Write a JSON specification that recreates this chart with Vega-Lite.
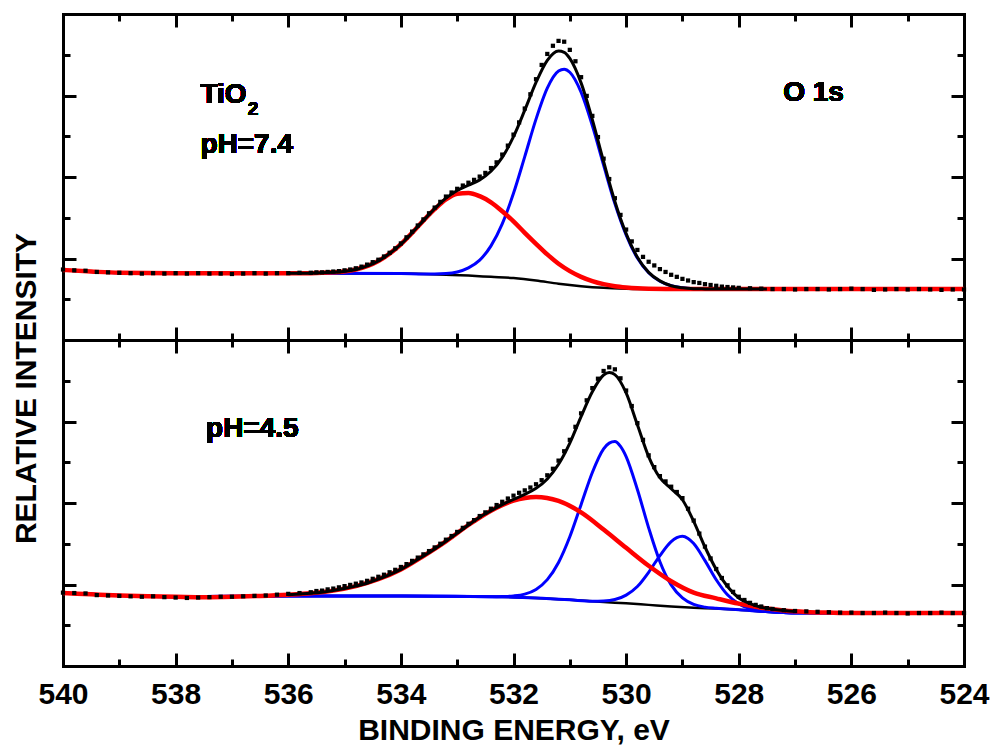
{
  "$schema": "https://vega.github.io/schema/vega-lite/v6.json",
  "padding": {"left": 10, "top": 12, "right": 0, "bottom": 0},
  "spacing": 0,
  "bounds": "flush",
  "background": "white",
  "config": {
    "view": {"stroke": null},
    "axis": {"domainColor": "black", "domainWidth": 3, "domainCap": "square", "tickColor": "black", "tickWidth": 3, "tickCap": "butt", "grid": false, "labels": false, "zindex": 1,
      "labelFont": "Liberation Sans", "labelFontWeight": "bold", "labelColor": "black", "titleFont": "Liberation Sans", "titleFontWeight": "bold", "titleColor": "black"}
  },
  "datasets": {
    "top": [
      {"s":"bg","e":540,"i":1.72},{"s":"bg","e":539.5,"i":1.68},{"s":"bg","e":539,"i":1.65},{"s":"bg","e":538,"i":1.64},{"s":"bg","e":537,"i":1.64},{"s":"bg","e":536,"i":1.64},{"s":"bg","e":535,"i":1.63},{"s":"bg","e":534,"i":1.63},{"s":"bg","e":533.6,"i":1.62},{"s":"bg","e":533.2,"i":1.6},{"s":"bg","e":532.8,"i":1.58},{"s":"bg","e":532.4,"i":1.55},{"s":"bg","e":532,"i":1.52},{"s":"bg","e":531.6,"i":1.46},{"s":"bg","e":531.2,"i":1.38},{"s":"bg","e":530.8,"i":1.32},{"s":"bg","e":530.4,"i":1.28},{"s":"bg","e":530,"i":1.26},{"s":"bg","e":529.6,"i":1.25},{"s":"bg","e":529,"i":1.25},{"s":"bg","e":528,"i":1.25},{"s":"bg","e":526,"i":1.25},{"s":"bg","e":524,"i":1.25},
      {"s":"blue","e":540,"i":1.72},{"s":"blue","e":539,"i":1.65},{"s":"blue","e":538,"i":1.64},{"s":"blue","e":536,"i":1.64},{"s":"blue","e":534,"i":1.63},{"s":"blue","e":533.6,"i":1.62},{"s":"blue","e":533.4,"i":1.62},{"s":"blue","e":533.2,"i":1.63},{"s":"blue","e":533,"i":1.67},{"s":"blue","e":532.8,"i":1.77},{"s":"blue","e":532.6,"i":1.96},{"s":"blue","e":532.4,"i":2.31},{"s":"blue","e":532.2,"i":2.85},{"s":"blue","e":532,"i":3.6},{"s":"blue","e":531.8,"i":4.5},{"s":"blue","e":531.6,"i":5.42},{"s":"blue","e":531.4,"i":6.18},{"s":"blue","e":531.2,"i":6.6},{"s":"blue","e":531.1,"i":6.645},{"s":"blue","e":531,"i":6.57},{"s":"blue","e":530.8,"i":6.08},{"s":"blue","e":530.6,"i":5.26},{"s":"blue","e":530.4,"i":4.29},{"s":"blue","e":530.2,"i":3.35},{"s":"blue","e":530,"i":2.58},{"s":"blue","e":529.8,"i":2.01},{"s":"blue","e":529.6,"i":1.65},{"s":"blue","e":529.4,"i":1.44},{"s":"blue","e":529.2,"i":1.33},{"s":"blue","e":529,"i":1.28},{"s":"blue","e":528.8,"i":1.26},{"s":"blue","e":528.6,"i":1.254},{"s":"blue","e":528,"i":1.25},{"s":"blue","e":526,"i":1.25},{"s":"blue","e":524,"i":1.25},
      {"s":"red","e":540,"i":1.72},{"s":"red","e":539.5,"i":1.68},{"s":"red","e":539,"i":1.65},{"s":"red","e":538,"i":1.64},{"s":"red","e":537,"i":1.64},{"s":"red","e":536,"i":1.64},{"s":"red","e":535.6,"i":1.64},{"s":"red","e":535.2,"i":1.66},{"s":"red","e":534.8,"i":1.73},{"s":"red","e":534.4,"i":1.94},{"s":"red","e":534.2,"i":2.12},{"s":"red","e":534,"i":2.35},{"s":"red","e":533.8,"i":2.63},{"s":"red","e":533.6,"i":2.93},{"s":"red","e":533.4,"i":3.21},{"s":"red","e":533.2,"i":3.45},{"s":"red","e":533,"i":3.59},{"s":"red","e":532.8,"i":3.61},{"s":"red","e":532.6,"i":3.53},{"s":"red","e":532.4,"i":3.38},{"s":"red","e":532.2,"i":3.16},{"s":"red","e":532,"i":2.91},{"s":"red","e":531.8,"i":2.63},{"s":"red","e":531.6,"i":2.36},{"s":"red","e":531.4,"i":2.1},{"s":"red","e":531.2,"i":1.87},{"s":"red","e":531,"i":1.69},{"s":"red","e":530.8,"i":1.55},{"s":"red","e":530.6,"i":1.445},{"s":"red","e":530.4,"i":1.37},{"s":"red","e":530.2,"i":1.32},{"s":"red","e":530,"i":1.29},{"s":"red","e":529.8,"i":1.27},{"s":"red","e":529.6,"i":1.26},{"s":"red","e":529,"i":1.25},{"s":"red","e":528,"i":1.25},{"s":"red","e":527,"i":1.25},{"s":"red","e":526,"i":1.25},{"s":"red","e":525,"i":1.25},{"s":"red","e":524,"i":1.25},
      {"s":"env","e":536,"i":1.64},{"s":"env","e":535.6,"i":1.64},{"s":"env","e":535.2,"i":1.66},{"s":"env","e":534.8,"i":1.73},{"s":"env","e":534.4,"i":1.94},{"s":"env","e":534.2,"i":2.12},{"s":"env","e":534,"i":2.35},{"s":"env","e":533.8,"i":2.63},{"s":"env","e":533.6,"i":2.93},{"s":"env","e":533.4,"i":3.22},{"s":"env","e":533.2,"i":3.48},{"s":"env","e":533,"i":3.67},{"s":"env","e":532.8,"i":3.8},{"s":"env","e":532.6,"i":3.93},{"s":"env","e":532.4,"i":4.14},{"s":"env","e":532.2,"i":4.48},{"s":"env","e":532,"i":4.99},{"s":"env","e":531.8,"i":5.64},{"s":"env","e":531.6,"i":6.32},{"s":"env","e":531.4,"i":6.86},{"s":"env","e":531.2,"i":7.09},{"s":"env","e":531.1,"i":7.06},{"s":"env","e":531,"i":6.91},{"s":"env","e":530.8,"i":6.31},{"s":"env","e":530.6,"i":5.41},{"s":"env","e":530.4,"i":4.38},{"s":"env","e":530.2,"i":3.4},{"s":"env","e":530,"i":2.61},{"s":"env","e":529.8,"i":2.03},{"s":"env","e":529.6,"i":1.66},{"s":"env","e":529.4,"i":1.45},{"s":"env","e":529.2,"i":1.33},{"s":"env","e":529,"i":1.28},{"s":"env","e":528.8,"i":1.26},{"s":"env","e":528.6,"i":1.254},{"s":"env","e":528.4,"i":1.25},{"s":"env","e":527.5,"i":1.25},
      {"s":"data","e":540,"i":1.73},{"s":"data","e":539.8,"i":1.71},{"s":"data","e":539.6,"i":1.7},{"s":"data","e":539.4,"i":1.67},{"s":"data","e":539.2,"i":1.66},{"s":"data","e":539,"i":1.65},{"s":"data","e":538.8,"i":1.64},{"s":"data","e":538.6,"i":1.63},{"s":"data","e":538.4,"i":1.64},{"s":"data","e":538.2,"i":1.63},{"s":"data","e":538,"i":1.64},{"s":"data","e":537.8,"i":1.63},{"s":"data","e":537.6,"i":1.64},{"s":"data","e":537.4,"i":1.63},{"s":"data","e":537.2,"i":1.63},{"s":"data","e":537,"i":1.62},{"s":"data","e":536.8,"i":1.63},{"s":"data","e":536.6,"i":1.64},{"s":"data","e":536.4,"i":1.63},{"s":"data","e":536.2,"i":1.64},{"s":"data","e":536,"i":1.64},{"s":"data","e":535.8,"i":1.65},{"s":"data","e":535.6,"i":1.65},
      {"s":"data","e":535.5,"i":1.66},{"s":"data","e":535.4,"i":1.66},{"s":"data","e":535.3,"i":1.67},{"s":"data","e":535.2,"i":1.68},{"s":"data","e":535.1,"i":1.69},{"s":"data","e":535,"i":1.71},{"s":"data","e":534.9,"i":1.73},{"s":"data","e":534.8,"i":1.76},{"s":"data","e":534.7,"i":1.8},{"s":"data","e":534.6,"i":1.85},{"s":"data","e":534.5,"i":1.91},{"s":"data","e":534.4,"i":1.97},{"s":"data","e":534.3,"i":2.05},{"s":"data","e":534.2,"i":2.14},{"s":"data","e":534.1,"i":2.25},{"s":"data","e":534,"i":2.37},{"s":"data","e":533.9,"i":2.52},{"s":"data","e":533.8,"i":2.66},{"s":"data","e":533.7,"i":2.81},{"s":"data","e":533.6,"i":2.96},{"s":"data","e":533.5,"i":3.11},{"s":"data","e":533.4,"i":3.25},{"s":"data","e":533.3,"i":3.39},{"s":"data","e":533.2,"i":3.52},{"s":"data","e":533.1,"i":3.62},{"s":"data","e":533,"i":3.71},{"s":"data","e":532.9,"i":3.79},{"s":"data","e":532.8,"i":3.86},{"s":"data","e":532.7,"i":3.93},{"s":"data","e":532.6,"i":4.01},{"s":"data","e":532.5,"i":4.1},{"s":"data","e":532.4,"i":4.22},{"s":"data","e":532.3,"i":4.36},{"s":"data","e":532.2,"i":4.55},{"s":"data","e":532.1,"i":4.77},{"s":"data","e":532,"i":5.04},{"s":"data","e":531.9,"i":5.34},{"s":"data","e":531.8,"i":5.68},{"s":"data","e":531.7,"i":6.03},{"s":"data","e":531.6,"i":6.4},{"s":"data","e":531.5,"i":6.75},{"s":"data","e":531.4,"i":7.02},{"s":"data","e":531.3,"i":7.22},{"s":"data","e":531.2,"i":7.34},{"s":"data","e":531.1,"i":7.32},{"s":"data","e":531,"i":7.12},{"s":"data","e":530.9,"i":6.84},{"s":"data","e":530.8,"i":6.45},{"s":"data","e":530.7,"i":5.99},{"s":"data","e":530.6,"i":5.5},{"s":"data","e":530.5,"i":4.98},{"s":"data","e":530.4,"i":4.45},{"s":"data","e":530.3,"i":3.95},{"s":"data","e":530.2,"i":3.48},{"s":"data","e":530.1,"i":3.07},{"s":"data","e":530,"i":2.71},{"s":"data","e":529.9,"i":2.42},{"s":"data","e":529.8,"i":2.21},{"s":"data","e":529.7,"i":2.04},{"s":"data","e":529.6,"i":1.92},{"s":"data","e":529.5,"i":1.83},{"s":"data","e":529.4,"i":1.74},{"s":"data","e":529.3,"i":1.67},{"s":"data","e":529.2,"i":1.6},{"s":"data","e":529.1,"i":1.55},{"s":"data","e":529,"i":1.5},{"s":"data","e":528.9,"i":1.46},{"s":"data","e":528.8,"i":1.42},{"s":"data","e":528.7,"i":1.4},{"s":"data","e":528.6,"i":1.37},{"s":"data","e":528.5,"i":1.35},{"s":"data","e":528.4,"i":1.33},{"s":"data","e":528.3,"i":1.31},{"s":"data","e":528.2,"i":1.3},{"s":"data","e":528.1,"i":1.29},{"s":"data","e":528,"i":1.28},
      {"s":"data","e":527.8,"i":1.27},{"s":"data","e":527.6,"i":1.26},{"s":"data","e":527.4,"i":1.25},{"s":"data","e":527.2,"i":1.25},{"s":"data","e":527,"i":1.24},{"s":"data","e":526.8,"i":1.25},{"s":"data","e":526.6,"i":1.25},{"s":"data","e":526.4,"i":1.24},{"s":"data","e":526.2,"i":1.25},{"s":"data","e":526,"i":1.26},{"s":"data","e":525.8,"i":1.25},{"s":"data","e":525.6,"i":1.23},{"s":"data","e":525.4,"i":1.24},{"s":"data","e":525.2,"i":1.25},{"s":"data","e":525,"i":1.24},{"s":"data","e":524.8,"i":1.25},{"s":"data","e":524.6,"i":1.24},{"s":"data","e":524.4,"i":1.23},{"s":"data","e":524.2,"i":1.24},{"s":"data","e":524,"i":1.24}
    ],
    "bottom": [
      {"s":"bg","e":540,"i":1.79},{"s":"bg","e":539.5,"i":1.76},{"s":"bg","e":539,"i":1.73},{"s":"bg","e":538.5,"i":1.71},{"s":"bg","e":538,"i":1.7},{"s":"bg","e":537.5,"i":1.69},{"s":"bg","e":537,"i":1.7},{"s":"bg","e":536.5,"i":1.71},{"s":"bg","e":536,"i":1.72},{"s":"bg","e":534,"i":1.72},{"s":"bg","e":533.2,"i":1.71},{"s":"bg","e":532.4,"i":1.7},{"s":"bg","e":532,"i":1.69},{"s":"bg","e":531.6,"i":1.67},{"s":"bg","e":531.2,"i":1.64},{"s":"bg","e":530.8,"i":1.61},{"s":"bg","e":530.4,"i":1.57},{"s":"bg","e":530,"i":1.54},{"s":"bg","e":529.6,"i":1.5},{"s":"bg","e":529.2,"i":1.46},{"s":"bg","e":528.8,"i":1.43},{"s":"bg","e":528.4,"i":1.41},{"s":"bg","e":528,"i":1.38},{"s":"bg","e":527.6,"i":1.34},{"s":"bg","e":527.2,"i":1.31},{"s":"bg","e":527,"i":1.3},{"s":"bg","e":526,"i":1.3},{"s":"bg","e":524,"i":1.3},
      {"s":"blue1","e":540,"i":1.79},{"s":"blue1","e":538,"i":1.7},{"s":"blue1","e":536,"i":1.72},{"s":"blue1","e":534,"i":1.72},{"s":"blue1","e":532.4,"i":1.7},{"s":"blue1","e":532.2,"i":1.705},{"s":"blue1","e":532,"i":1.72},{"s":"blue1","e":531.8,"i":1.765},{"s":"blue1","e":531.6,"i":1.88},{"s":"blue1","e":531.4,"i":2.12},{"s":"blue1","e":531.2,"i":2.54},{"s":"blue1","e":531,"i":3.17},{"s":"blue1","e":530.8,"i":3.96},{"s":"blue1","e":530.6,"i":4.75},{"s":"blue1","e":530.4,"i":5.33},{"s":"blue1","e":530.3,"i":5.47},{"s":"blue1","e":530.2,"i":5.51},{"s":"blue1","e":530.1,"i":5.39},{"s":"blue1","e":530,"i":5.14},{"s":"blue1","e":529.8,"i":4.33},{"s":"blue1","e":529.6,"i":3.39},{"s":"blue1","e":529.4,"i":2.56},{"s":"blue1","e":529.2,"i":1.99},{"s":"blue1","e":529,"i":1.67},{"s":"blue1","e":528.8,"i":1.51},{"s":"blue1","e":528.6,"i":1.445},{"s":"blue1","e":528.4,"i":1.417},{"s":"blue1","e":528,"i":1.38},{"s":"blue1","e":527.2,"i":1.31},{"s":"blue1","e":527,"i":1.3},{"s":"blue1","e":524,"i":1.3},
      {"s":"blue2","e":540,"i":1.79},{"s":"blue2","e":538,"i":1.7},{"s":"blue2","e":536,"i":1.72},{"s":"blue2","e":534,"i":1.72},{"s":"blue2","e":532,"i":1.69},{"s":"blue2","e":531.6,"i":1.67},{"s":"blue2","e":531,"i":1.625},{"s":"blue2","e":530.6,"i":1.59},{"s":"blue2","e":530.4,"i":1.595},{"s":"blue2","e":530.2,"i":1.63},{"s":"blue2","e":530,"i":1.74},{"s":"blue2","e":529.8,"i":1.95},{"s":"blue2","e":529.6,"i":2.3},{"s":"blue2","e":529.4,"i":2.71},{"s":"blue2","e":529.2,"i":3.055},{"s":"blue2","e":529.1,"i":3.15},{"s":"blue2","e":529,"i":3.185},{"s":"blue2","e":528.9,"i":3.13},{"s":"blue2","e":528.8,"i":3.005},{"s":"blue2","e":528.6,"i":2.586},{"s":"blue2","e":528.4,"i":2.117},{"s":"blue2","e":528.2,"i":1.746},{"s":"blue2","e":528,"i":1.523},{"s":"blue2","e":527.8,"i":1.408},{"s":"blue2","e":527.6,"i":1.353},{"s":"blue2","e":527.2,"i":1.31},{"s":"blue2","e":527,"i":1.3},{"s":"blue2","e":524,"i":1.3},
      {"s":"red","e":540,"i":1.79},{"s":"red","e":539.5,"i":1.76},{"s":"red","e":539,"i":1.73},{"s":"red","e":538.5,"i":1.71},{"s":"red","e":538,"i":1.7},{"s":"red","e":537.5,"i":1.69},{"s":"red","e":537,"i":1.7},{"s":"red","e":536.5,"i":1.72},{"s":"red","e":536,"i":1.75},{"s":"red","e":535.6,"i":1.785},{"s":"red","e":535.2,"i":1.85},{"s":"red","e":534.8,"i":1.96},{"s":"red","e":534.4,"i":2.13},{"s":"red","e":534,"i":2.37},{"s":"red","e":533.6,"i":2.7},{"s":"red","e":533.2,"i":3.06},{"s":"red","e":532.8,"i":3.46},{"s":"red","e":532.4,"i":3.81},{"s":"red","e":532,"i":4.06},{"s":"red","e":531.6,"i":4.15},{"s":"red","e":531.2,"i":4.05},{"s":"red","e":530.8,"i":3.77},{"s":"red","e":530.4,"i":3.35},{"s":"red","e":530,"i":2.9},{"s":"red","e":529.6,"i":2.46},{"s":"red","e":529.2,"i":2.08},{"s":"red","e":528.8,"i":1.8},{"s":"red","e":528.4,"i":1.66},{"s":"red","e":528,"i":1.53},{"s":"red","e":527.6,"i":1.43},{"s":"red","e":527.2,"i":1.36},{"s":"red","e":526.8,"i":1.325},{"s":"red","e":526.4,"i":1.31},{"s":"red","e":526,"i":1.3},{"s":"red","e":525,"i":1.3},{"s":"red","e":524,"i":1.3},
      {"s":"env","e":536,"i":1.75},{"s":"env","e":535.8,"i":1.765},{"s":"env","e":535.6,"i":1.785},{"s":"env","e":535.4,"i":1.81},{"s":"env","e":535.2,"i":1.85},{"s":"env","e":535,"i":1.9},{"s":"env","e":534.8,"i":1.96},{"s":"env","e":534.6,"i":2.03},{"s":"env","e":534.4,"i":2.13},{"s":"env","e":534.2,"i":2.24},{"s":"env","e":534,"i":2.37},{"s":"env","e":533.8,"i":2.53},{"s":"env","e":533.6,"i":2.7},{"s":"env","e":533.4,"i":2.87},{"s":"env","e":533.2,"i":3.06},{"s":"env","e":533,"i":3.26},{"s":"env","e":532.8,"i":3.46},{"s":"env","e":532.6,"i":3.65},{"s":"env","e":532.4,"i":3.81},{"s":"env","e":532.2,"i":3.96},{"s":"env","e":532,"i":4.09},{"s":"env","e":531.8,"i":4.21},{"s":"env","e":531.6,"i":4.36},{"s":"env","e":531.4,"i":4.59},{"s":"env","e":531.2,"i":4.95},{"s":"env","e":531,"i":5.47},{"s":"env","e":530.8,"i":6.12},{"s":"env","e":530.6,"i":6.73},{"s":"env","e":530.4,"i":7.14},{"s":"env","e":530.3,"i":7.2},{"s":"env","e":530.2,"i":7.15},{"s":"env","e":530,"i":6.7},{"s":"env","e":529.8,"i":5.92},{"s":"env","e":529.6,"i":5.14},{"s":"env","e":529.4,"i":4.62},{"s":"env","e":529.2,"i":4.35},{"s":"env","e":529,"i":4.08},{"s":"env","e":528.8,"i":3.55},{"s":"env","e":528.6,"i":2.92},{"s":"env","e":528.4,"i":2.37},{"s":"env","e":528.2,"i":1.95},{"s":"env","e":528,"i":1.67},{"s":"env","e":527.8,"i":1.53},{"s":"env","e":527.6,"i":1.44},{"s":"env","e":527.4,"i":1.395},{"s":"env","e":527.2,"i":1.36},{"s":"env","e":527,"i":1.34},
      {"s":"data","e":540,"i":1.8},{"s":"data","e":539.8,"i":1.79},{"s":"data","e":539.6,"i":1.78},{"s":"data","e":539.4,"i":1.74},{"s":"data","e":539.2,"i":1.73},{"s":"data","e":539,"i":1.72},{"s":"data","e":538.8,"i":1.71},{"s":"data","e":538.6,"i":1.7},{"s":"data","e":538.4,"i":1.71},{"s":"data","e":538.2,"i":1.69},{"s":"data","e":538,"i":1.68},{"s":"data","e":537.8,"i":1.67},{"s":"data","e":537.6,"i":1.68},{"s":"data","e":537.4,"i":1.69},{"s":"data","e":537.2,"i":1.7},{"s":"data","e":537,"i":1.7},{"s":"data","e":536.8,"i":1.71},{"s":"data","e":536.6,"i":1.72},{"s":"data","e":536.4,"i":1.73},{"s":"data","e":536.2,"i":1.75},{"s":"data","e":536,"i":1.77},{"s":"data","e":535.8,"i":1.79},{"s":"data","e":535.6,"i":1.81},
      {"s":"data","e":535.5,"i":1.84},{"s":"data","e":535.4,"i":1.85},{"s":"data","e":535.3,"i":1.88},{"s":"data","e":535.2,"i":1.9},{"s":"data","e":535.1,"i":1.93},{"s":"data","e":535,"i":1.96},{"s":"data","e":534.9,"i":1.99},{"s":"data","e":534.8,"i":2.02},{"s":"data","e":534.7,"i":2.05},{"s":"data","e":534.6,"i":2.09},{"s":"data","e":534.5,"i":2.14},{"s":"data","e":534.4,"i":2.19},{"s":"data","e":534.3,"i":2.24},{"s":"data","e":534.2,"i":2.3},{"s":"data","e":534.1,"i":2.36},{"s":"data","e":534,"i":2.43},{"s":"data","e":533.9,"i":2.5},{"s":"data","e":533.8,"i":2.58},{"s":"data","e":533.7,"i":2.66},{"s":"data","e":533.6,"i":2.74},{"s":"data","e":533.5,"i":2.82},{"s":"data","e":533.4,"i":2.91},{"s":"data","e":533.3,"i":3.0},{"s":"data","e":533.2,"i":3.1},{"s":"data","e":533.1,"i":3.19},{"s":"data","e":533,"i":3.29},{"s":"data","e":532.9,"i":3.39},{"s":"data","e":532.8,"i":3.49},{"s":"data","e":532.7,"i":3.58},{"s":"data","e":532.6,"i":3.68},{"s":"data","e":532.5,"i":3.77},{"s":"data","e":532.4,"i":3.86},{"s":"data","e":532.3,"i":3.95},{"s":"data","e":532.2,"i":4.03},{"s":"data","e":532.1,"i":4.11},{"s":"data","e":532,"i":4.18},{"s":"data","e":531.9,"i":4.25},{"s":"data","e":531.8,"i":4.31},{"s":"data","e":531.7,"i":4.38},{"s":"data","e":531.6,"i":4.46},{"s":"data","e":531.5,"i":4.56},{"s":"data","e":531.4,"i":4.68},{"s":"data","e":531.3,"i":4.84},{"s":"data","e":531.2,"i":5.04},{"s":"data","e":531.1,"i":5.27},{"s":"data","e":531,"i":5.55},{"s":"data","e":530.9,"i":5.87},{"s":"data","e":530.8,"i":6.2},{"s":"data","e":530.7,"i":6.52},{"s":"data","e":530.6,"i":6.82},{"s":"data","e":530.5,"i":7.05},{"s":"data","e":530.4,"i":7.24},{"s":"data","e":530.3,"i":7.33},{"s":"data","e":530.2,"i":7.28},{"s":"data","e":530.1,"i":7.06},{"s":"data","e":530,"i":6.76},{"s":"data","e":529.9,"i":6.38},{"s":"data","e":529.8,"i":5.96},{"s":"data","e":529.7,"i":5.55},{"s":"data","e":529.6,"i":5.17},{"s":"data","e":529.5,"i":4.88},{"s":"data","e":529.4,"i":4.66},{"s":"data","e":529.3,"i":4.53},{"s":"data","e":529.2,"i":4.4},{"s":"data","e":529.1,"i":4.27},{"s":"data","e":529,"i":4.12},{"s":"data","e":528.9,"i":3.86},{"s":"data","e":528.8,"i":3.57},{"s":"data","e":528.7,"i":3.25},{"s":"data","e":528.6,"i":2.93},{"s":"data","e":528.5,"i":2.64},{"s":"data","e":528.4,"i":2.38},{"s":"data","e":528.3,"i":2.16},{"s":"data","e":528.2,"i":1.98},{"s":"data","e":528.1,"i":1.82},{"s":"data","e":528,"i":1.7},{"s":"data","e":527.9,"i":1.62},{"s":"data","e":527.8,"i":1.55},{"s":"data","e":527.7,"i":1.5},{"s":"data","e":527.6,"i":1.46},{"s":"data","e":527.5,"i":1.42},
      {"s":"data","e":527.4,"i":1.4},{"s":"data","e":527.2,"i":1.37},{"s":"data","e":527,"i":1.35},{"s":"data","e":526.8,"i":1.34},{"s":"data","e":526.6,"i":1.33},{"s":"data","e":526.4,"i":1.32},{"s":"data","e":526.2,"i":1.31},{"s":"data","e":526,"i":1.31},{"s":"data","e":525.8,"i":1.3},{"s":"data","e":525.6,"i":1.3},{"s":"data","e":525.4,"i":1.31},{"s":"data","e":525.2,"i":1.3},{"s":"data","e":525,"i":1.29},{"s":"data","e":524.8,"i":1.3},{"s":"data","e":524.6,"i":1.3},{"s":"data","e":524.4,"i":1.31},{"s":"data","e":524.2,"i":1.3},{"s":"data","e":524,"i":1.3}
    ]
  },
  "vconcat": [
    {
      "width": 901,
      "height": 326,
      "data": {"name": "top"},
      "resolve": {"axis": {"x": "independent", "y": "independent"}},
      "layer": [
        {
          "transform": [{"filter": "datum.s === 'bg'"}],
          "mark": {"type": "line", "interpolate": "monotone", "color": "black", "strokeWidth": 2.5},
          "encoding": {
            "x": {"field": "e", "type": "quantitative", "scale": {"domain": [540, 524], "nice": false, "zero": false},
              "axis": {"orient": "bottom", "values": [540, 538, 536, 534, 532, 530, 528, 526, 524], "tickSize": -13, "labels": false, "title": null}},
            "y": {"field": "i", "type": "quantitative", "scale": {"domain": [0, 8], "nice": false, "zero": false},
              "axis": {"orient": "left", "values": [2, 4, 6], "tickSize": -13, "labels": false, "title": null}}
          }
        },
        {
          "transform": [{"filter": "datum.s === 'blue'"}],
          "mark": {"type": "line", "interpolate": "monotone", "color": "#0000ff", "strokeWidth": 3},
          "encoding": {
            "x": {"field": "e", "type": "quantitative", "scale": {"domain": [540, 524], "nice": false, "zero": false},
              "axis": {"orient": "bottom", "values": [539, 537, 535, 533, 531, 529, 527, 525], "tickSize": -7, "labels": false, "domain": false, "title": null}},
            "y": {"field": "i", "type": "quantitative", "scale": {"domain": [0, 8], "nice": false, "zero": false},
              "axis": {"orient": "left", "values": [1, 3, 5, 7], "tickSize": -7, "labels": false, "domain": false, "title": null}}
          }
        },
        {
          "transform": [{"filter": "datum.s === 'red'"}],
          "mark": {"type": "line", "interpolate": "monotone", "color": "#ff0000", "strokeWidth": 4.5},
          "encoding": {
            "x": {"field": "e", "type": "quantitative", "scale": {"domain": [540, 524], "nice": false, "zero": false},
              "axis": {"orient": "top", "values": [540, 538, 536, 534, 532, 530, 528, 526, 524], "tickSize": -13, "labels": false, "title": null}},
            "y": {"field": "i", "type": "quantitative", "scale": {"domain": [0, 8], "nice": false, "zero": false},
              "axis": {"orient": "right", "values": [2, 4, 6], "tickSize": -13, "labels": false, "title": null}}
          }
        },
        {
          "transform": [{"filter": "datum.s === 'env'"}],
          "mark": {"type": "line", "interpolate": "monotone", "color": "black", "strokeWidth": 3},
          "encoding": {
            "x": {"field": "e", "type": "quantitative", "scale": {"domain": [540, 524], "nice": false, "zero": false},
              "axis": {"orient": "top", "values": [539, 537, 535, 533, 531, 529, 527, 525], "tickSize": -7, "labels": false, "domain": false, "title": null}},
            "y": {"field": "i", "type": "quantitative", "scale": {"domain": [0, 8], "nice": false, "zero": false},
              "axis": {"orient": "right", "values": [1, 3, 5, 7], "tickSize": -7, "labels": false, "domain": false, "title": null}}
          }
        },
        {
          "transform": [{"filter": "datum.s === 'data'"}],
          "mark": {"type": "point", "shape": "square", "filled": true, "color": "black", "size": 18, "opacity": 1},
          "encoding": {
            "x": {"field": "e", "type": "quantitative", "scale": {"domain": [540, 524], "nice": false, "zero": false}, "axis": null},
            "y": {"field": "i", "type": "quantitative", "scale": {"domain": [0, 8], "nice": false, "zero": false}, "axis": null}
          }
        },
        {
          "mark": {"type": "text", "font": "Liberation Sans", "fontWeight": "bold", "fontSize": 28, "align": "left", "baseline": "alphabetic", "color": "black"},
          "encoding": {
            "x": {"datum": 537.56, "type": "quantitative", "axis": null},
            "y": {"datum": 5.82, "type": "quantitative", "axis": null},
            "text": {"value": "TiO"}
          }
        },
        {
          "mark": {"type": "text", "font": "Liberation Sans", "fontWeight": "bold", "fontSize": 19, "align": "left", "baseline": "alphabetic", "color": "black"},
          "encoding": {
            "x": {"datum": 536.72, "type": "quantitative", "axis": null},
            "y": {"datum": 5.53, "type": "quantitative", "axis": null},
            "text": {"value": "2"}
          }
        },
        {
          "mark": {"type": "text", "font": "Liberation Sans", "fontWeight": "bold", "fontSize": 28, "align": "left", "baseline": "alphabetic", "color": "black"},
          "encoding": {
            "x": {"datum": 537.56, "type": "quantitative", "axis": null},
            "y": {"datum": 4.59, "type": "quantitative", "axis": null},
            "text": {"value": "pH=7.4"}
          }
        },
        {
          "mark": {"type": "text", "font": "Liberation Sans", "fontWeight": "bold", "fontSize": 28, "align": "left", "baseline": "alphabetic", "color": "black"},
          "encoding": {
            "x": {"datum": 527.21, "type": "quantitative", "axis": null},
            "y": {"datum": 5.87, "type": "quantitative", "axis": null},
            "text": {"value": "O 1s"}
          }
        }
      ]
    },
    {
      "width": 901,
      "height": 326,
      "data": {"name": "bottom"},
      "resolve": {"axis": {"x": "independent", "y": "independent"}},
      "layer": [
        {
          "transform": [{"filter": "datum.s === 'bg'"}],
          "mark": {"type": "line", "interpolate": "monotone", "color": "black", "strokeWidth": 2.5},
          "encoding": {
            "x": {"field": "e", "type": "quantitative", "scale": {"domain": [540, 524], "nice": false, "zero": false},
              "axis": {"orient": "bottom", "values": [540, 538, 536, 534, 532, 530, 528, 526, 524], "ticks": false, "labels": true, "format": "d",
                "labelFontSize": 30, "labelPadding": 37, "labelBaseline": "alphabetic", "labelFlush": false, "labelOverlap": false, "labelBound": false,
                "title": "BINDING ENERGY, eV", "titleFontSize": 30, "titleY": 73, "titleBaseline": "alphabetic"}},
            "y": {"field": "i", "type": "quantitative", "scale": {"domain": [0, 8], "nice": false, "zero": false},
              "axis": {"orient": "left", "ticks": false, "labels": false, "title": "RELATIVE INTENSITY", "titleFontSize": 30, "titleAngle": 270, "titleX": -28, "titleY": 48, "titleBaseline": "alphabetic", "titleAlign": "center"}}
          }
        },
        {
          "transform": [{"filter": "datum.s === 'blue1' || datum.s === 'blue2'"}],
          "mark": {"type": "line", "interpolate": "monotone", "color": "#0000ff", "strokeWidth": 3},
          "encoding": {
            "x": {"field": "e", "type": "quantitative", "scale": {"domain": [540, 524], "nice": false, "zero": false},
              "axis": {"orient": "bottom", "values": [540, 538, 536, 534, 532, 530, 528, 526, 524], "tickSize": -13, "labels": false, "title": null}},
            "y": {"field": "i", "type": "quantitative", "scale": {"domain": [0, 8], "nice": false, "zero": false},
              "axis": {"orient": "left", "values": [2, 4, 6], "tickSize": -13, "labels": false, "title": null}},
            "detail": {"field": "s"}
          }
        },
        {
          "transform": [{"filter": "datum.s === 'red'"}],
          "mark": {"type": "line", "interpolate": "monotone", "color": "#ff0000", "strokeWidth": 4.5},
          "encoding": {
            "x": {"field": "e", "type": "quantitative", "scale": {"domain": [540, 524], "nice": false, "zero": false},
              "axis": {"orient": "bottom", "values": [539, 537, 535, 533, 531, 529, 527, 525], "tickSize": -7, "labels": false, "domain": false, "title": null}},
            "y": {"field": "i", "type": "quantitative", "scale": {"domain": [0, 8], "nice": false, "zero": false},
              "axis": {"orient": "left", "values": [1, 3, 5, 7], "tickSize": -7, "labels": false, "domain": false, "title": null}}
          }
        },
        {
          "transform": [{"filter": "datum.s === 'env'"}],
          "mark": {"type": "line", "interpolate": "monotone", "color": "black", "strokeWidth": 3},
          "encoding": {
            "x": {"field": "e", "type": "quantitative", "scale": {"domain": [540, 524], "nice": false, "zero": false},
              "axis": {"orient": "top", "values": [540, 538, 536, 534, 532, 530, 528, 526, 524], "tickSize": -13, "labels": false, "title": null}},
            "y": {"field": "i", "type": "quantitative", "scale": {"domain": [0, 8], "nice": false, "zero": false},
              "axis": {"orient": "right", "values": [2, 4, 6], "tickSize": -13, "labels": false, "title": null}}
          }
        },
        {
          "transform": [{"filter": "datum.s === 'data'"}],
          "mark": {"type": "point", "shape": "square", "filled": true, "color": "black", "size": 18, "opacity": 1},
          "encoding": {
            "x": {"field": "e", "type": "quantitative", "scale": {"domain": [540, 524], "nice": false, "zero": false},
              "axis": {"orient": "top", "values": [539, 537, 535, 533, 531, 529, 527, 525], "tickSize": -7, "labels": false, "domain": false, "title": null}},
            "y": {"field": "i", "type": "quantitative", "scale": {"domain": [0, 8], "nice": false, "zero": false},
              "axis": {"orient": "right", "values": [1, 3, 5, 7], "tickSize": -7, "labels": false, "domain": false, "title": null}}
          }
        },
        {
          "mark": {"type": "text", "font": "Liberation Sans", "fontWeight": "bold", "fontSize": 28, "align": "left", "baseline": "alphabetic", "color": "black"},
          "encoding": {
            "x": {"datum": 537.46, "type": "quantitative", "axis": null},
            "y": {"datum": 5.62, "type": "quantitative", "axis": null},
            "text": {"value": "pH=4.5"}
          }
        }
      ]
    }
  ]
}
